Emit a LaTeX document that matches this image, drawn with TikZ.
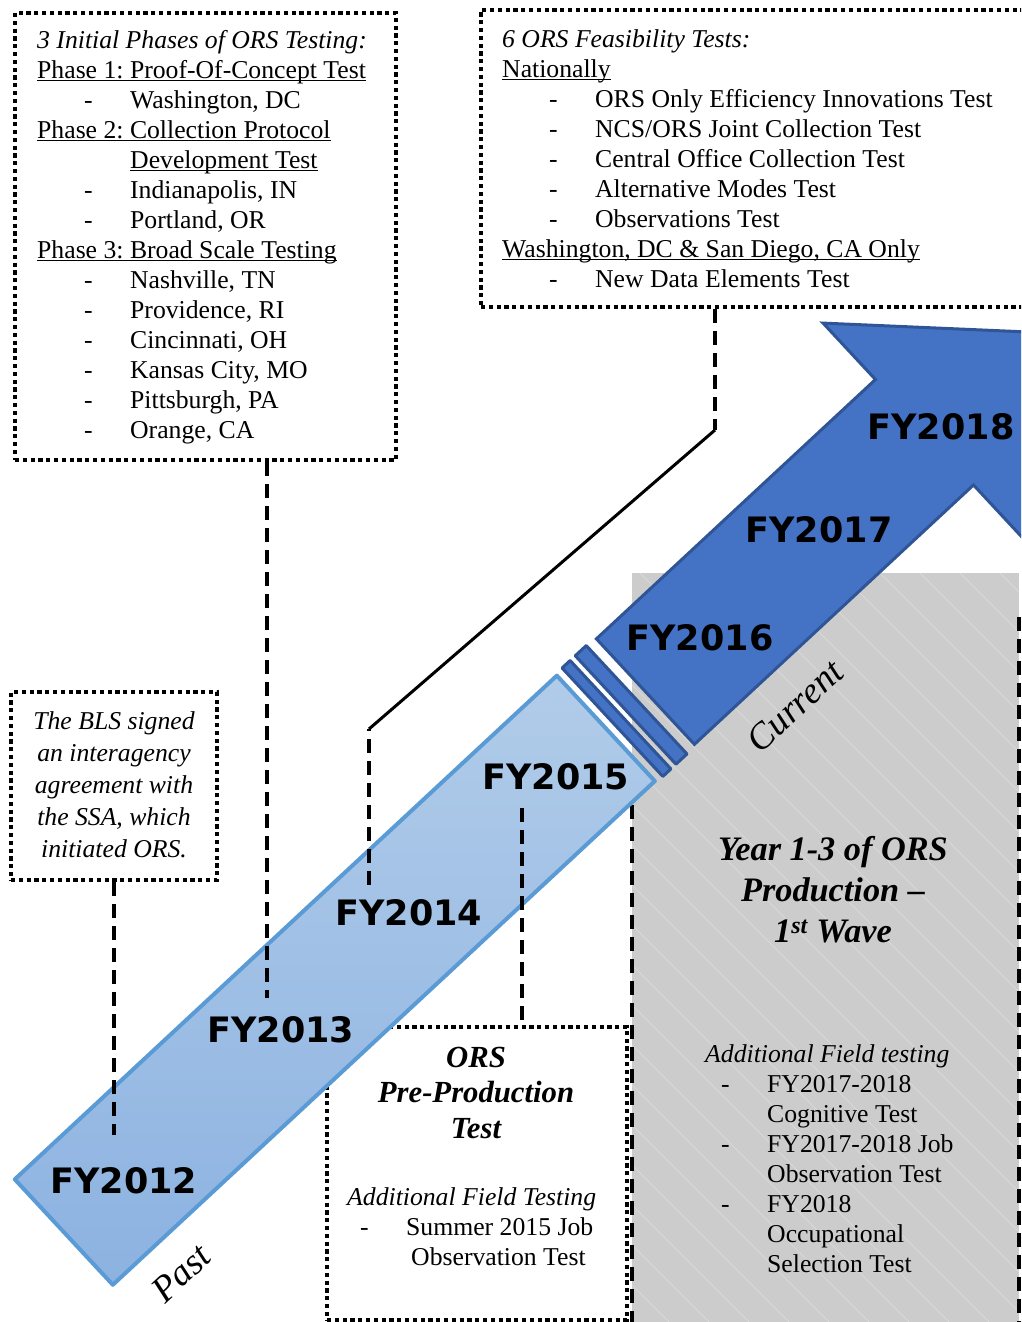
\documentclass[tikz,border=0pt]{standalone}
\usepackage{fontspec}
\setmainfont{Liberation Serif}
\newfontfamily\fyfont{DejaVu Sans}
\definecolor{bandline}{HTML}{5B9BD5}
\definecolor{bandtop}{HTML}{B1CCE9}
\definecolor{bandbot}{HTML}{8CB2E1}
\definecolor{arrowfill}{HTML}{4472C4}
\definecolor{arrowline}{HTML}{2F5597}
\newcommand{\li}[1]{\hspace*{47pt}\makebox[46pt][l]{-}#1}
\newcommand{\ul}[1]{\underline{\smash{#1}}}
\frenchspacing

\begin{document}
\begin{tikzpicture}[x=1pt,y=-1pt,
    along/.style={x={(0.7325pt,0.6807pt)},y={(0.6807pt,-0.7325pt)}},
    dotbox/.style={draw, line width=4.2pt, dash pattern=on 4.2pt off 3.6pt},
    conn/.style={line width=3.5pt, dash pattern=on 14pt off 8pt},
    hatch/.style={white, opacity=0.35, line width=0.6pt},
    fy/.style={inner sep=0pt, font=\fyfont\bfseries\fontsize{35pt}{40pt}\selectfont},
    body/.style={inner sep=0pt, align=left, font=\fontsize{25.7pt}{30pt}\selectfont}]
   \useasboundingbox (0,0) rectangle (1021,1322);
   \clip (0,0) rectangle (1021,1322);

   % production years
   \node[fill=gray!40, inner sep=0pt, minimum width=387pt, minimum height=762pt] (wave) at (825.5,954) {};
   \begin{scope}
     \clip (wave.north west) rectangle (wave.south east);
     \foreach \s in {-760,-720,...,1020}
       \draw[hatch] (\s,573) -- ++(780,780);
   \end{scope}
   \draw[conn] ([yshift=-44pt]wave.north east) -- (wave.south east);
   \draw[conn] ([yshift=-232pt]wave.north west) -- (wave.south west);

   % boxes
   \node[dotbox, minimum width=381pt, minimum height=447pt] (phases) at (205.5,236.5) {};
   \node[dotbox, minimum width=564pt, minimum height=297pt] (feas) at (763,158.5) {};
   \node[dotbox, minimum width=206pt, minimum height=188pt] (bls) at (114,786) {};
   \node[dotbox, minimum width=300pt, minimum height=293pt] (pre) at (477,1173.5) {};

   \node[body, anchor=north west] (phasestext) at (37,30.5) {\textit{3 Initial Phases of ORS Testing:}\\
     \ul{Phase 1: Proof-Of-Concept Test}\\
     \li{Washington, DC}\\
     \ul{Phase 2: Collection Protocol}\\
     \hspace*{93pt}\ul{Development Test}\\
     \li{Indianapolis, IN}\\
     \li{Portland, OR}\\
     \ul{Phase 3: Broad Scale Testing}\\
     \li{Nashville, TN}\\
     \li{Providence, RI}\\
     \li{Cincinnati, OH}\\
     \li{Kansas City, MO}\\
     \li{Pittsburgh, PA}\\
     \li{Orange, CA}};
   \node[body, anchor=north west] (feastext) at (502,29.5) {\textit{6 ORS Feasibility Tests:}\\
     \ul{Nationally}\\
     \li{ORS Only Efficiency Innovations Test}\\
     \li{NCS/ORS Joint Collection Test}\\
     \li{Central Office Collection Test}\\
     \li{Alternative Modes Test}\\
     \li{Observations Test}\\
     \ul{Washington, DC \& San Diego, CA Only}\\
     \li{New Data Elements Test}};
   \node[inner sep=0pt, align=center, anchor=north, font=\itshape\fontsize{25.7pt}{32pt}\selectfont] (blstext) at (114,711.5)
     {The BLS signed\\an interagency\\agreement with\\the SSA, which\\initiated ORS.};
   \node[inner sep=0pt, align=center, anchor=north, font=\bfseries\itshape\fontsize{30.7pt}{35.5pt}\selectfont] (pretitle) at (476,1046.5)
     {ORS\\Pre-Production\\Test};
   \node[body, anchor=north west] (pretext) at (347,1187.4) {\textit{Additional Field Testing}\\
     \hspace*{13pt}\makebox[46pt][l]{-}Summer 2015 Job\\
     \hspace*{64pt}Observation Test};
   \node[inner sep=0pt, align=center, anchor=north, font=\bfseries\itshape\fontsize{34.3pt}{41pt}\selectfont] (wavetitle) at (833,836)
     {Year 1-3 of ORS\\Production –\\1\textsuperscript{st} Wave};
   \node[body, anchor=north west] (wavetext) at (705,1044.4) {\textit{Additional Field testing}\\
     \hspace*{16pt}\makebox[46pt][l]{-}FY2017-2018\\
     \hspace*{62pt}Cognitive Test\\
     \hspace*{16pt}\makebox[46pt][l]{-}FY2017-2018 Job\\
     \hspace*{62pt}Observation Test\\
     \hspace*{16pt}\makebox[46pt][l]{-}FY2018\\
     \hspace*{62pt}Occupational\\
     \hspace*{62pt}Selection Test};

   % timeline
   \begin{scope}[along]
     \shadedraw[top color=bandtop, bottom color=bandbot, draw=bandline, line width=4pt, line join=round]
       (-792,874) -- (-52,874) -- (-52,1018) -- (-792,1018) -- cycle;
     \filldraw[fill=arrowfill, draw=arrowline, line width=3pt, line join=round]
       (-43,872) -- (-32,872) -- (-32,1020) -- (-43,1020) -- cycle;
     \filldraw[fill=arrowfill, draw=arrowline, line width=3pt, line join=round]
       (-25,872) -- (-10,872) -- (-10,1020) -- (-25,1020) -- cycle;
     \filldraw[fill=arrowfill, draw=arrowline, line width=3pt]
       (2,874) -- (383,874) -- (383,797) -- (530,946) -- (383,1095) -- (383,1018) -- (2,1018) -- cycle;
   \end{scope}

   \node[fy] (fy2012) at (124,1181) {FY2012};
   \node[fy] (fy2013) at (281,1030) {FY2013};
   \node[fy] (fy2014) at (409,913) {FY2014};
   \node[fy] (fy2015) at (556,777) {FY2015};
   \node[fy] (fy2016) at (700,638) {FY2016};
   \node[fy] (fy2017) at (819,530) {FY2017};
   \node[fy] (fy2018) at (941,427) {FY2018};
   \node[rotate=43, font=\itshape\fontsize{37pt}{40pt}\selectfont] (past) at (181,1273) {Past};
   \node[rotate=43, font=\itshape\fontsize{37pt}{40pt}\selectfont] (current) at (795,706) {Current};

   % connectors
   \coordinate (c2012) at (114,1135);
   \coordinate (c2013) at (267,998);
   \coordinate (k1) at (715,430);
   \coordinate (k2) at (369,729);
   \coordinate (c2014) at (369,893);
   \coordinate (c2015) at (522,808);
   \draw[conn] (bls.south) -- (c2012);
   \draw[conn] (phases.south -| c2013) -- (c2013);
   \draw[conn] (feas.south -| k1) -- (k1);
   \draw[line width=3pt] (k1) -- (k2);
   \draw[conn, dash phase=12pt] (k2) -- (c2014);
   \draw[conn] (c2015) -- (pre.north -| c2015);
 \end{tikzpicture}
\end{document}
